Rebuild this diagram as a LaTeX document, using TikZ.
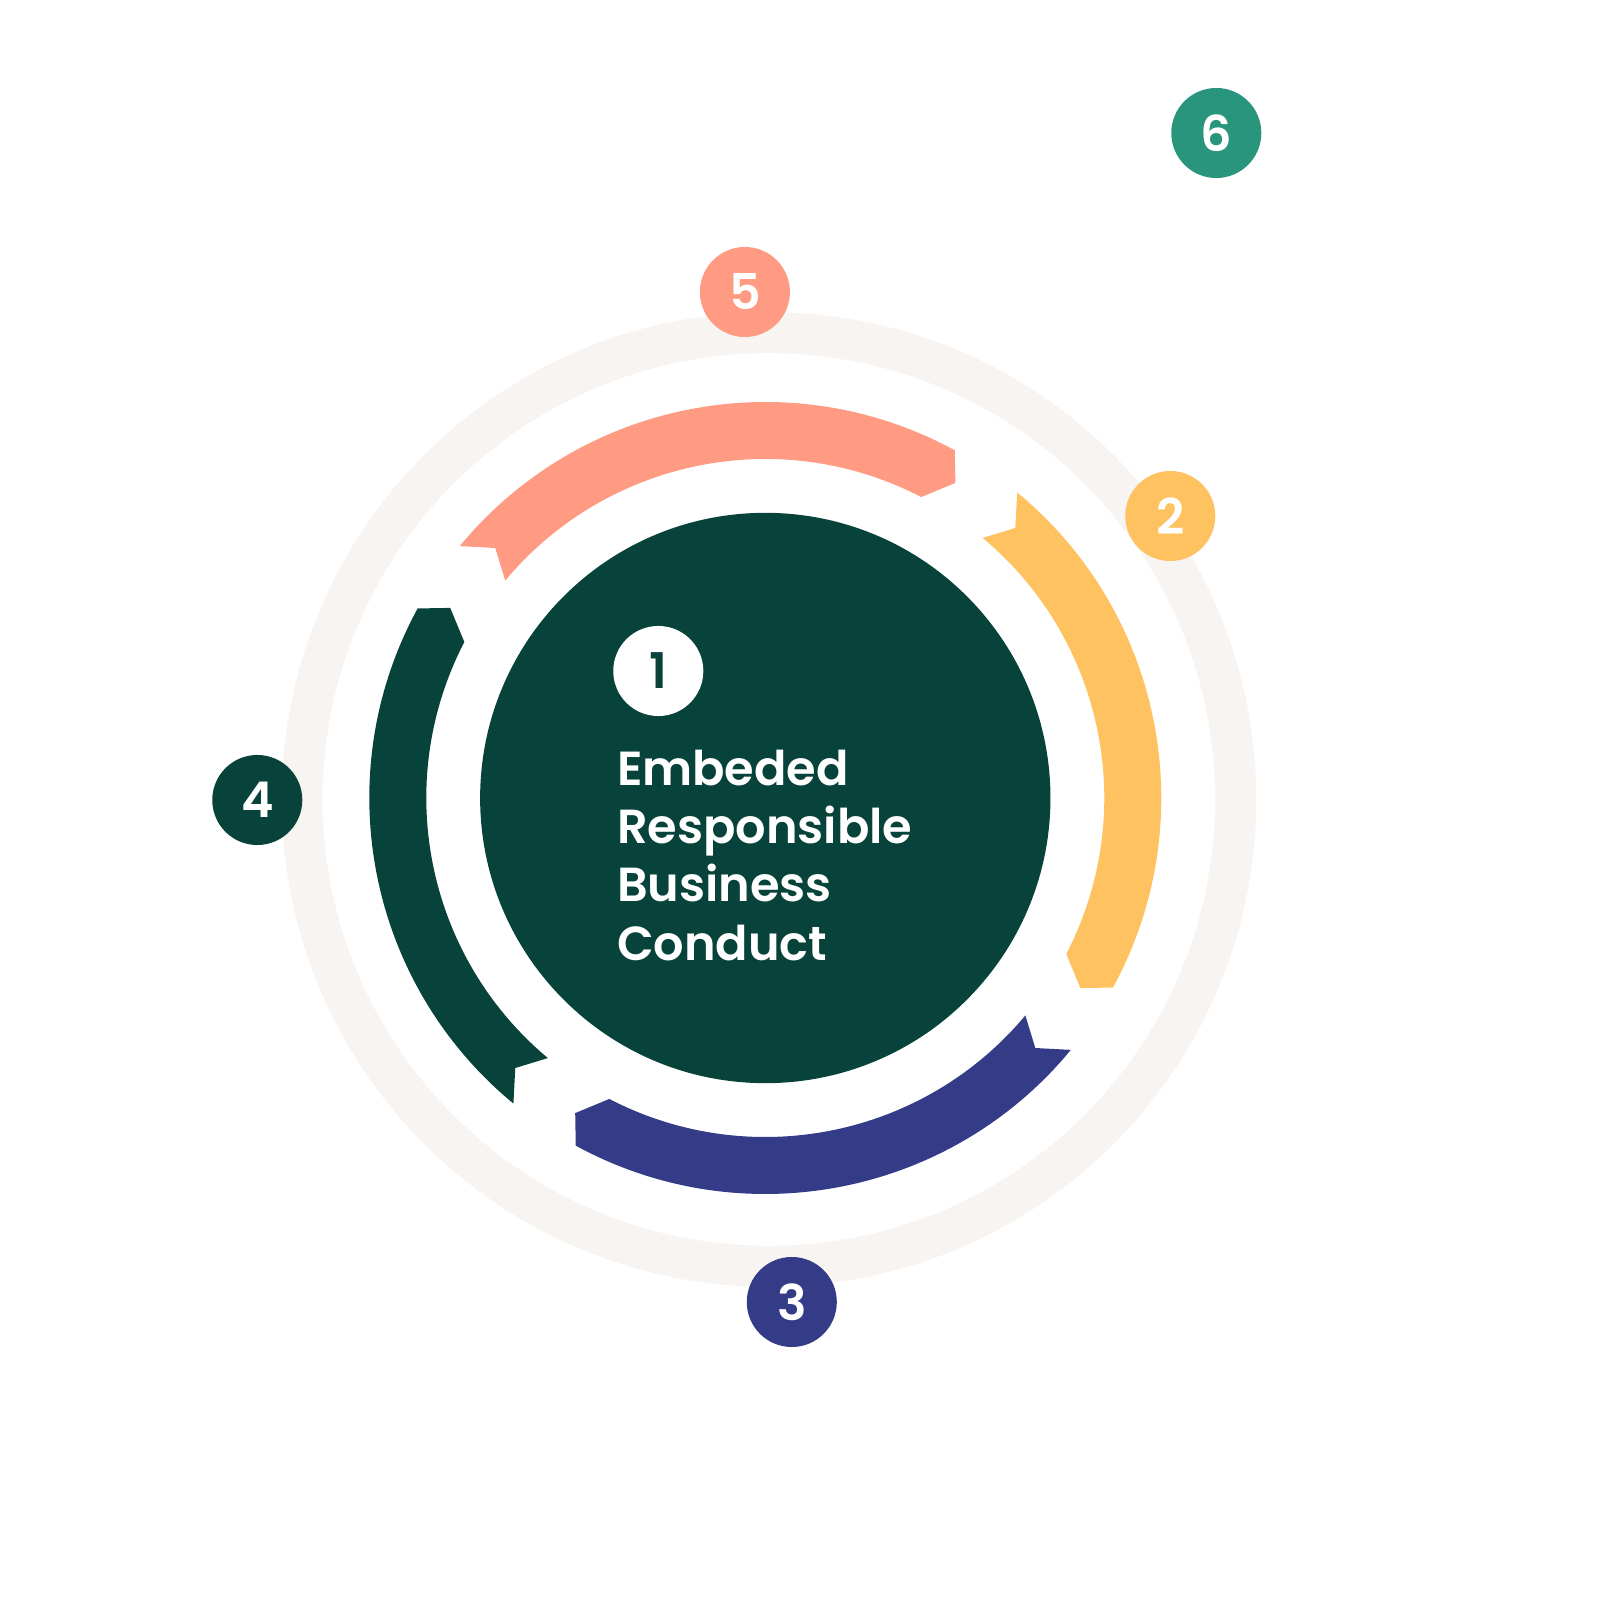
\documentclass[tikz,border=0pt]{standalone}
\usepackage{fontspec}
\setmainfont{Poppins}
\newfontfamily\popsemi{Poppins SemiBold}
\usepackage{tikz}
\usetikzlibrary{arrows.meta}

\definecolor{salmon}{HTML}{FF9B83}
\definecolor{sunny}{HTML}{FFC261}
\definecolor{indigo}{HTML}{343C87}
\definecolor{forest}{HTML}{07433A}
\definecolor{teal6}{HTML}{2A957D}
\definecolor{sand}{HTML}{F7F4F1}

\tikzset{
  numdot/.style={circle, minimum size=0.9cm, inner sep=0pt, text=white, font=\popsemi\fontsize{14}{14}\selectfont},
  steplabel/.style={text=white, align=left, inner sep=0pt, font=\fontsize{11.4}{13.7}\selectfont},
}

\begin{document}
\begin{tikzpicture}[x=0.01cm, y=0.01cm]
  \useasboundingbox (-765.3,-802) rectangle (834.7,798);
  % outer ring
  \draw[sand, line width=0.41cm] (3.6,-1.5) circle (466.8);
  % cycle arrows
  \foreach \rot/\col in {0/salmon, -90/sunny, -180/indigo, -270/forest}
    \fill[\col, rotate=\rot] (140.5:396) arc[start angle=140.5, end angle=61.4, radius=396]
      -- (58.9:368) -- (62.6:339) arc[start angle=62.6, end angle=140.1, radius=339]
      -- (137.2:368) -- cycle;
  \node[circle, fill=forest, minimum size=5.7cm, inner sep=0pt] (core) at (0,0) {};

  \node[numdot, fill=white, text=forest] (n1) at (-107,127) {1};
  \node[numdot, fill=sunny] (n2) at (405,282) {2};
  \node[numdot, fill=indigo] (n3) at (26.5,-504) {3};
  \node[numdot, fill=forest] (n4) at (-508,-2) {4};
  \node[numdot, fill=salmon] (n5) at (-20.4,506) {5};
  \node[numdot, fill=teal6] (n6) at (451,665) {6};

  % base anchor sits on the last line
  \node[anchor=base west, text=white, align=left, inner sep=0pt, font=\popsemi\fontsize{13.6}{16.5}\selectfont] (title) at (-149,-162) {Embeded\\Responsible\\Business\\Conduct};

  % step labels
  \node[steplabel, anchor=base west] (l6) at (522.7,628) {Provide for\\or cooperate};
  \node[steplabel, anchor=base west] (l5) at (51.7,493) {Communicate};
  \node[steplabel, anchor=base west] (l2) at (476.7,202) {Identify\\\& assess\\adverse\\impacts};
  \node[steplabel, anchor=base east] (l4) at (-578,-15) {Track};
  \node[steplabel, anchor=base west] (l3) at (-17,-659) {Cease, prevent\\or mitigate};

  \draw[white, line width=0.04cm, dash pattern=on 0.24cm off 0.24cm, -{Straight Barb[length=0.25cm, width=0.55cm]}, shorten <=0.05cm, shorten >=0.1cm] (n5) to[out=58, in=168] (n6);
\end{tikzpicture}
\end{document}
